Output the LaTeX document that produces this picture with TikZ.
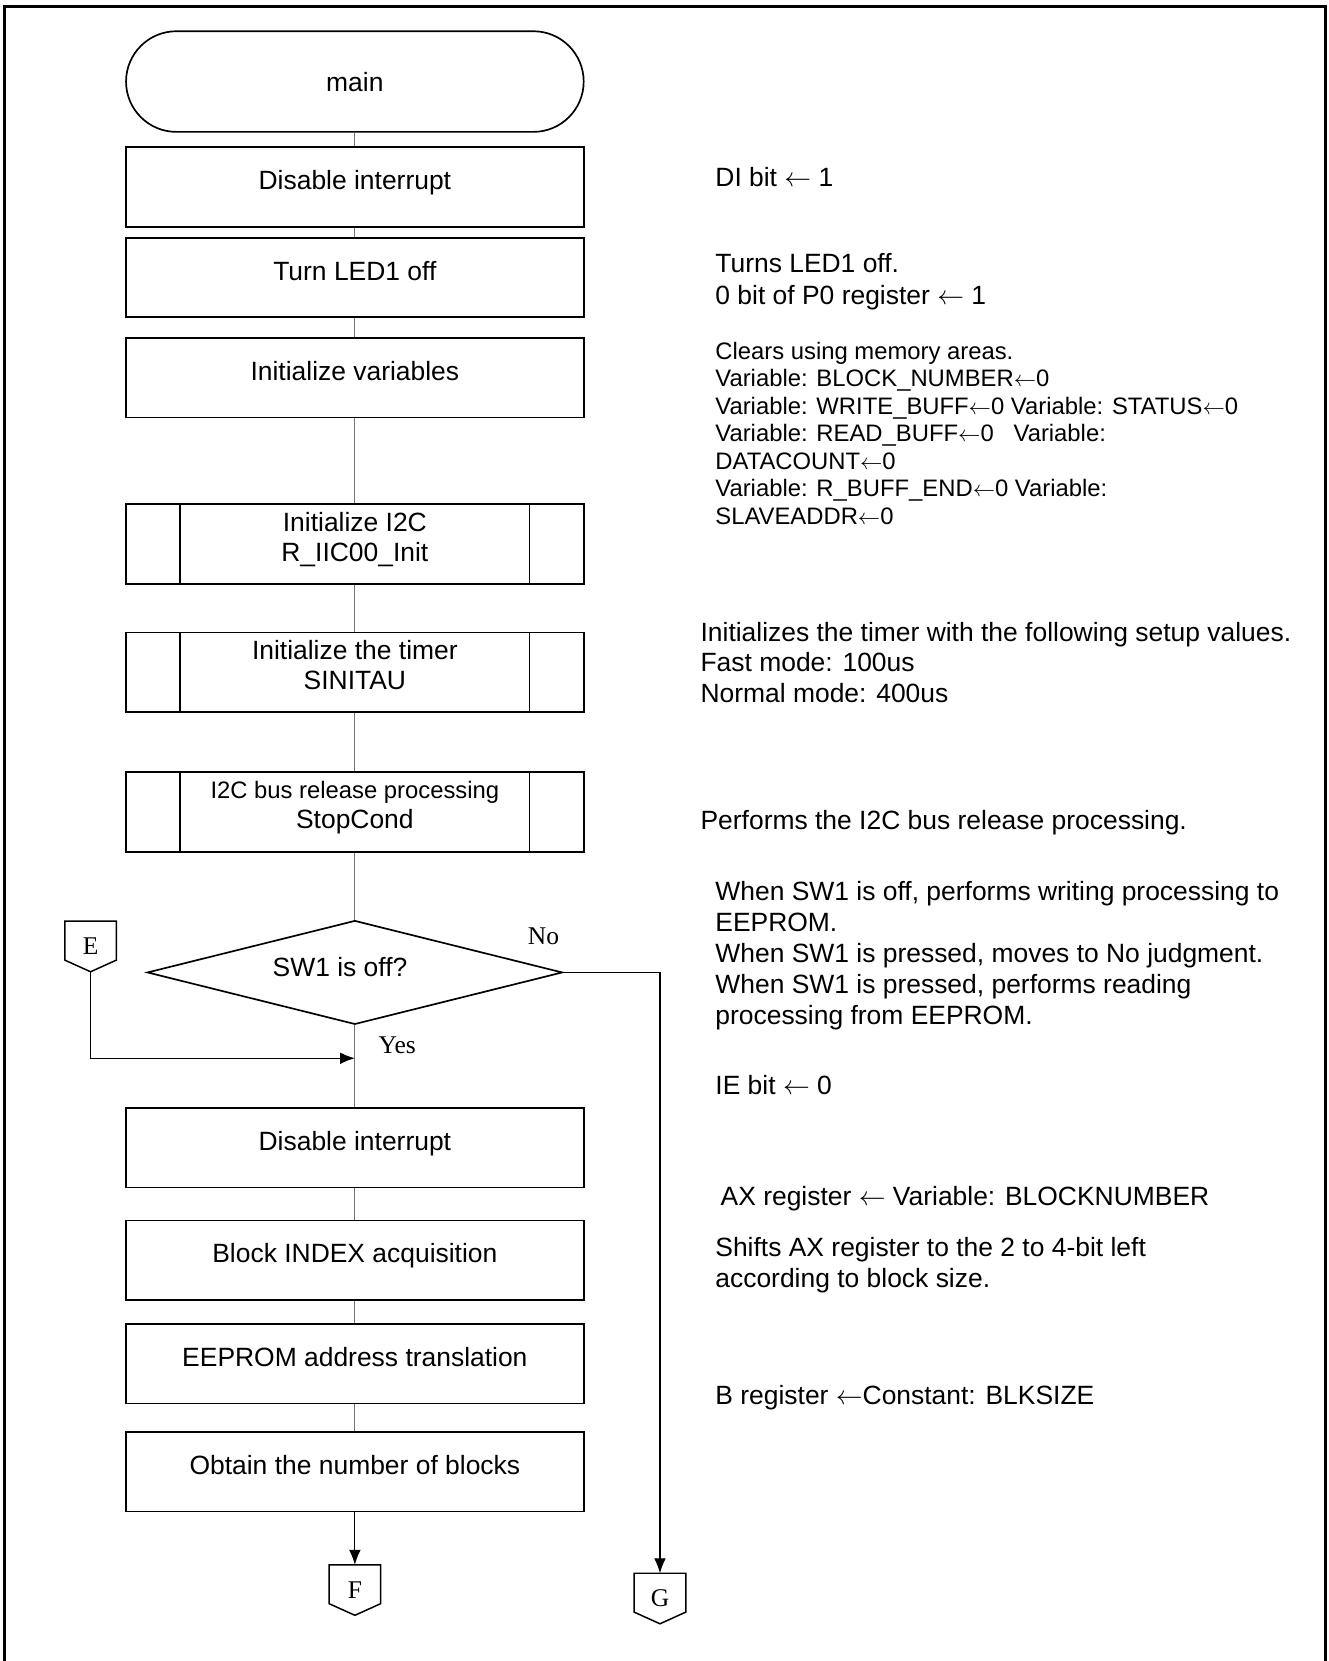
\documentclass[tikz,border=0pt]{standalone}
\usepackage{fontspec}
\setsansfont{Liberation Sans}
\newfontfamily\serifface{Liberation Serif}
\usetikzlibrary{shapes.geometric,arrows.meta}
\newcommand{\asgn}{\ensuremath{\leftarrow}}

\begin{document}
\begin{tikzpicture}[
  box/.style={draw, line width=0.9pt, minimum width=8.64cm, minimum height=1.5cm, align=center, inner sep=2pt, text depth=0.26cm, font=\sffamily\fontsize{14.2}{16}\selectfont},
  term/.style={box, rounded corners=0.95cm, minimum height=1.9cm, text depth=0pt},
  decision/.style={diamond, draw, line width=0.9pt, aspect=4, minimum width=7.84cm, minimum height=1.96cm, inner sep=0pt, text depth=0.2cm, font=\sffamily\fontsize{14.2}{16}\selectfont},
  offpage/.style={minimum width=0.96cm, minimum height=0.94cm, inner sep=0pt, font=\serifface\fontsize{13.7}{15}\selectfont},
  lab/.style={font=\serifface\fontsize{13.7}{15}\selectfont, inner sep=0pt},
  note/.style={anchor=base west, align=left, inner sep=0pt, font=\sffamily\fontsize{14.2}{16.6}\selectfont},
  smallnote/.style={note, font=\sffamily\fontsize{12.8}{14.8}\selectfont},
  link/.style={draw=black!55, line width=0.5pt},
  flow/.style={-{Latex[length=0.28cm,width=0.22cm]}, line width=0.6pt},
]
\useasboundingbox (0,0) rectangle (25.08,-31.36);

% ---- frame (open at the bottom) ----
\draw[line width=1.6pt] (0.094,-31.36) -- (0.094,-0.132) -- (25.02,-0.132) -- (25.02,-31.36);

% ---- main column ----
\node[term] (term) at (6.70,-1.54)  {main};
\node[box]  (dis1) at (6.70,-3.53)  {Disable interrupt};
\node[box]  (led)  at (6.70,-5.24)  {Turn LED1 off};
\node[box]  (vars) at (6.70,-7.13)  {Initialize variables};
\node[box]  (i2c)  at (6.70,-10.27) {Initialize I2C\\R\_IIC00\_Init};
\node[box]  (tmr)  at (6.70,-12.69) {Initialize the timer\\SINITAU};
\node[box]  (stop) at (6.70,-15.33) {{\fontsize{12.8}{14}\selectfont I2C bus release processing}\\StopCond};
\node[decision] (sw1) at (6.70,-18.36) {SW1 is off?\hspace*{0.56cm}};
\node[box]  (dis2) at (6.70,-21.67) {Disable interrupt};
\node[box]  (blk)  at (6.70,-23.79) {Block INDEX acquisition};
\node[box]  (eep)  at (6.70,-25.75) {EEPROM address translation};
\node[box]  (nob)  at (6.70,-27.79) {Obtain the number of blocks};

% sub-routine side bars
\foreach \n in {i2c,tmr,stop}{
  \draw[line width=0.9pt] ([xshift=1.04cm]\n.north west) -- ([xshift=1.04cm]\n.south west);
  \draw[line width=0.9pt] ([xshift=-1.04cm]\n.north east) -- ([xshift=-1.04cm]\n.south east);
}

% ---- off-page connectors ----
\node[offpage] (cE) at (1.71,-17.87)  {E};
\node[offpage] (cF) at (6.70,-30.02)  {F};
\node[offpage] (cG) at (12.46,-30.18) {G};
\foreach \c in {cE,cF,cG}
  \draw[line width=0.8pt] (\c.north west) -- (\c.north east) -- ([yshift=0.22cm]\c.south east) -- (\c.south) -- ([yshift=0.22cm]\c.south west) -- cycle;

% ---- connectors ----
\foreach \a/\b in {term/dis1,dis1/led,led/vars,vars/i2c,i2c/tmr,tmr/stop,stop/sw1,sw1/dis2,dis2/blk,blk/eep,eep/nob}
  \draw[link] (\a.south) -- (\b.north);
\coordinate (join) at (6.70,-19.98);
\draw[flow] (cE.south) |- (join);
\draw[flow] (sw1.east) -| (cG.north);
\draw[flow] (nob.south) -- (cF.north);
\node[lab] (no)  at (10.26,-17.68) {No};
\node[lab] (yes) at (7.50,-19.74)  {Yes};

% ---- comments on the right (base = last line) ----
\node[note] (n1) at (13.50,-3.52) {DI bit \asgn\ 1};
\node[note, font=\sffamily\fontsize{14.2}{17}\selectfont] (n2) at (13.50,-5.74) {Turns LED1 off.\\0 bit of P0 register \asgn\ 1};
\node[smallnote] (n3) at (13.50,-9.90) {Clears using memory areas.\\Variable: BLOCK\_NUMBER\asgn 0\\Variable: WRITE\_BUFF\asgn 0 Variable: STATUS\asgn 0\\Variable: READ\_BUFF\asgn 0~~~Variable:\\DATACOUNT\asgn 0\\Variable: R\_BUFF\_END\asgn 0 Variable:\\SLAVEADDR\asgn 0};
\node[note] (n4) at (13.22,-13.27) {Initializes the timer with the following setup values.\\Fast mode: 100us\\Normal mode: 400us};
\node[note] (n5) at (13.22,-15.66) {Performs the I2C bus release processing.};
\node[note] (n6) at (13.50,-19.34) {When SW1 is off, performs writing processing to\\EEPROM.\\When SW1 is pressed, moves to No judgment.\\When SW1 is pressed, performs reading\\processing from EEPROM.};
\node[note] (n7) at (13.50,-20.66) {IE bit \asgn\ 0};
\node[note] (n8) at (13.60,-22.76) {AX register \asgn\ Variable: BLOCKNUMBER};
\node[note] (n9) at (13.50,-24.31) {Shifts AX register to the 2 to 4-bit left\\according to block size.};
\node[note] (n10) at (13.50,-26.52) {B register \asgn Constant: BLKSIZE};

\end{tikzpicture}
\end{document}
